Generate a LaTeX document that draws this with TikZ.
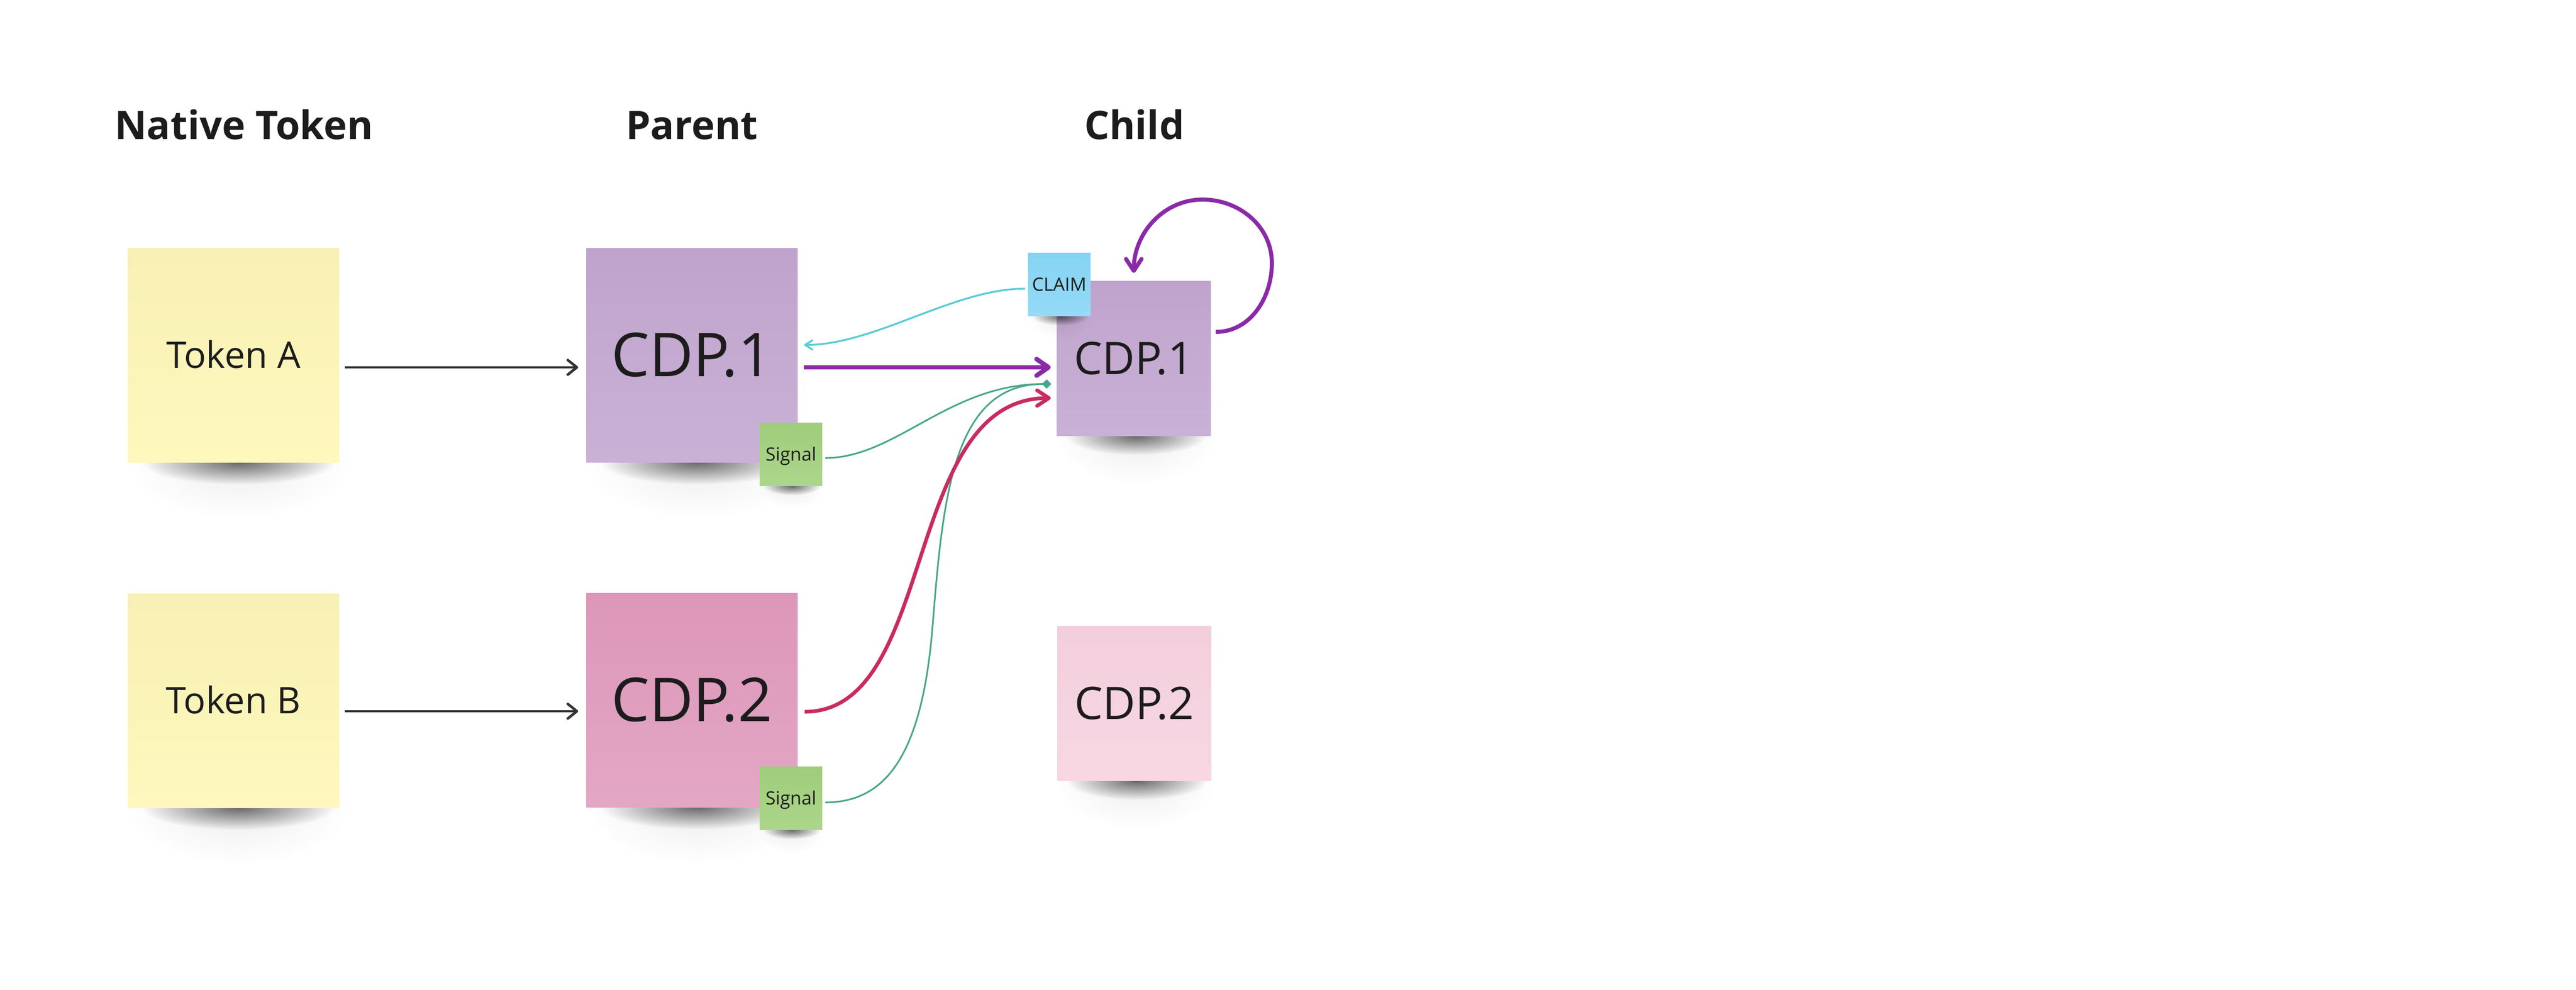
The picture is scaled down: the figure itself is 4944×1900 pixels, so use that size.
\documentclass[tikz,border=0pt]{standalone}
\usepackage{fontspec}
\setmainfont{Open Sans}
\usetikzlibrary{arrows.meta,calc,fadings}
\definecolor{ink}{HTML}{1C1C1C}
\definecolor{yelT}{HTML}{F8F0B4}
\definecolor{yelB}{HTML}{FEF8BE}
\definecolor{purT}{HTML}{C0A3CD}
\definecolor{purB}{HTML}{C9B1D6}
\definecolor{pnkT}{HTML}{DD96B9}
\definecolor{pnkB}{HTML}{E3A7C4}
\definecolor{lpkT}{HTML}{F3CEDC}
\definecolor{lpkB}{HTML}{F8D7E3}
\definecolor{grnT}{HTML}{9FCD7B}
\definecolor{grnB}{HTML}{ACD68B}
\definecolor{bluT}{HTML}{85D3F2}
\definecolor{bluB}{HTML}{94DBF7}
\definecolor{arrBlack}{HTML}{333333}
\definecolor{arrPurple}{HTML}{8A2AA8}
\definecolor{arrCyan}{HTML}{5ACCD6}
\definecolor{arrGreen}{HTML}{48A68A}
\definecolor{arrRed}{HTML}{C92A62}
\pgfdeclarelayer{bg}
\pgfdeclarelayer{big}
\pgfdeclarelayer{smallshadow}
\pgfsetlayers{bg,big,smallshadow,main}
\tikzfading[name=softshadow, inner color=transparent!0, outer color=transparent!100]
% #1 node, #2 x offset, #3 x radius, #4 y radius, #5 opacity
\newcommand\stickyshadow[5]{%
  \fill[black, opacity=0.07, path fading=softshadow]
    ($(#1.south)+(#2,0)$) ellipse [x radius=1.15*#3, y radius=2.6*#4];
  \fill[black, opacity=#5, path fading=softshadow]
    ($(#1.south)+(#2,0)$) ellipse [x radius=#3, y radius=#4];}
\tikzset{
  sticky/.style={rectangle, inner sep=0pt, text=ink, align=center},
  bigsticky/.style={sticky, minimum width=4.05cm, minimum height=4.1cm},
  childsticky/.style={sticky, minimum width=2.95cm, minimum height=2.97cm,
    font=\fontsize{24.5pt}{29pt}\selectfont, text height=17.2pt, text depth=0pt},
  smallsticky/.style={sticky, minimum width=1.2cm, minimum height=1.21cm,
    font=\fontsize{10pt}{12pt}\selectfont, text height=7pt, text depth=0pt},
  tokenfont/.style={font=\fontsize{20pt}{24pt}\selectfont, text height=14pt, text depth=0pt},
  parentfont/.style={font=\fontsize{33pt}{38pt}\selectfont, text height=23.2pt, text depth=0pt},
  yellownote/.style={top color=yelT, bottom color=yelB},
  purplenote/.style={top color=purT, bottom color=purB},
  pinknote/.style={top color=pnkT, bottom color=pnkB},
  lightpinknote/.style={top color=lpkT, bottom color=lpkB},
  greennote/.style={top color=grnT, bottom color=grnB},
  bluenote/.style={top color=bluT, bottom color=bluB},
  header/.style={anchor=base, text=ink, font=\bfseries\fontsize{21.5pt}{26pt}\selectfont},
  blackarrow/.style={draw=arrBlack, line width=1.4pt,
    -{Straight Barb[length=5pt, width=8pt, round]}},
  purplearrow/.style={draw=arrPurple, line width=2.5pt,
    -{Straight Barb[length=6.5pt, width=9pt, round]}},
  looparrow/.style={draw=arrPurple, line width=2.2pt,
    -{Straight Barb[length=6.5pt, width=8.5pt, round]}},
  cyanarrow/.style={draw=arrCyan, line width=1pt,
    -{Straight Barb[length=4pt, width=5pt, round]}},
  greenarrow/.style={draw=arrGreen, line width=0.9pt,
    -{Diamond[length=5pt, width=5pt]}},
  redarrow/.style={draw=arrRed, line width=2pt,
    -{Straight Barb[length=6.5pt, width=8.5pt, round]}},
}
\begin{document}
\begin{tikzpicture}[x=0.01cm, y=-0.01cm]
\begin{pgfonlayer}{bg}
  \fill[white] (0,0) rectangle (4944,1900);
\end{pgfonlayer}
\useasboundingbox (0,0) rectangle (4944,1900);

% headers
\node[header] (hNative) at (468,268) {Native Token};
\node[header] (hParent) at (1328,268) {Parent};
\node[header] (hChild) at (2177,268) {Child};

% large notes
\begin{pgfonlayer}{big}
  \node[bigsticky, yellownote, tokenfont] (ta) at (448,682) {Token A};
  \node[bigsticky, yellownote, tokenfont] (tb) at (448,1345) {Token B};
  \node[bigsticky, purplenote, parentfont] (p1) at (1328,682) {CDP.1};
  \node[bigsticky, pinknote, parentfont] (p2) at (1328,1344) {CDP.2};
  \node[childsticky, purplenote] (c1) at (2176,688) {CDP.1};
  \node[childsticky, lightpinknote] (c2) at (2177,1350) {CDP.2};
\end{pgfonlayer}

% shadows of large notes
\begin{pgfonlayer}{bg}
  \stickyshadow{ta}{10}{1.85cm}{0.42cm}{0.55}
  \stickyshadow{tb}{10}{1.85cm}{0.42cm}{0.55}
  \stickyshadow{p1}{10}{1.85cm}{0.42cm}{0.55}
  \stickyshadow{p2}{10}{1.85cm}{0.42cm}{0.55}
  \stickyshadow{c1}{5}{1.35cm}{0.36cm}{0.55}
  \stickyshadow{c2}{5}{1.35cm}{0.36cm}{0.55}
\end{pgfonlayer}

% small notes
\node[smallsticky, greennote] (s1) at (1518,872) {Signal};
\node[smallsticky, greennote] (s2) at (1518,1532) {Signal};
\node[smallsticky, bluenote] (cl) at (2033,546) {CLAIM};

\begin{pgfonlayer}{smallshadow}
  \stickyshadow{s1}{2}{0.55cm}{0.17cm}{0.55}
  \stickyshadow{s2}{2}{0.55cm}{0.17cm}{0.55}
  \stickyshadow{cl}{2}{0.55cm}{0.17cm}{0.55}
\end{pgfonlayer}

% connectors
\draw[blackarrow] ($(ta.east)+(11,23)$) -- ($(p1.west)+(-15,23)$);
\draw[blackarrow] ($(tb.east)+(11,20)$) -- ($(p2.west)+(-15,21)$);

\draw[cyanarrow] ($(cl.west)+(-5,8)$) .. controls (1830,554) and (1680,662) .. ($(p1.east)+(12,-20)$);

\draw[purplearrow] ($(p1.east)+(12,23)$) -- ($(c1.west)+(-11,17)$);

\draw[greenarrow] ($(s1.east)+(5,7)$) .. controls (1720,879) and (1820,737) .. ($(c1.west)+(-10,49)$);

\coordinate (g2mid) at (1790,1200);
\draw[greenarrow] ($(s2.east)+(5,8)$) .. controls (1700,1540) and (1770,1450) .. (g2mid)
   .. controls (1810,950) and (1830,737) .. ($(c1.west)+(-10,49)$);

\draw[redarrow] ($(p2.east)+(13,22)$) .. controls (1800,1366) and (1730,764) .. ($(c1.west)+(-11,76)$);

\coordinate (loopR) at (2441,505);
\coordinate (loopT) at (2308,383);
\draw[looparrow] ($(c1.east)+(9,-51)$) to[out=0,in=-90] (loopR) to[out=90,in=0] (loopT)
   to[out=180,in=90] ($(c1.north)+(0,-15)$);
\end{tikzpicture}
\end{document}
